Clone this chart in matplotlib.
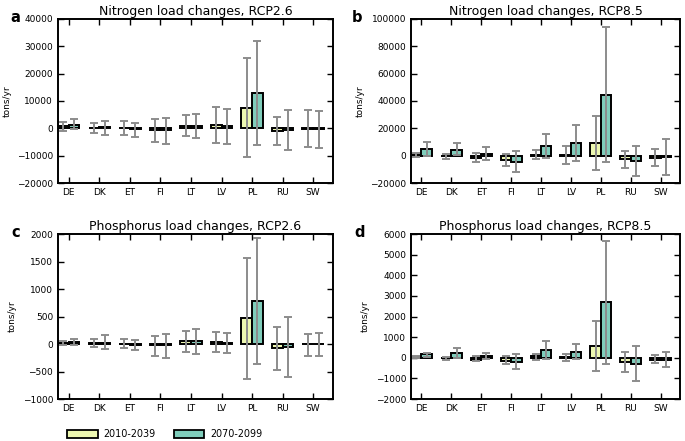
import numpy as np
import matplotlib
matplotlib.use("Agg")
import matplotlib.pyplot as plt
from matplotlib.patches import Patch

countries = ["DE", "DK", "ET", "FI", "LT", "LV", "PL", "RU", "SW"]
periods = ["2010-2039", "2070-2099"]

# nitrogen, RCP2.6 (tons/yr): mean change, ensemble min, ensemble max
n26_early = [700, 300, 100, -500, 1000, 1300, 7600, -900, -200]
n26_early_lo = [-1000, -1700, -2600, -5000, -2900, -5200, -10500, -6200, -7000]
n26_early_hi = [2200, 1800, 2800, 3400, 4900, 7700, 25900, 4200, 6600]
n26_late = [1400, 400, -300, -500, 1000, 800, 13000, -500, -300]
n26_late_lo = [-250, -2300, -3200, -5900, -3600, -5600, -6200, -7800, -7200]
n26_late_hi = [3300, 2800, 2000, 3900, 5400, 7000, 32000, 6600, 6300]

# nitrogen, RCP8.5
n85_early = [1000, -300, -1600, -2900, 700, 300, 9300, -2700, -1500]
n85_early_lo = [-1000, -2400, -4900, -7800, -2400, -6400, -10800, -8800, -7600]
n85_early_hi = [2000, 1000, 2000, 1200, 3900, 7100, 29300, 3700, 4600]
n85_late = [4900, 4100, 1200, -4400, 7300, 9300, 44700, -4200, -1200]
n85_late_lo = [-500, 200, -3400, -12200, -1700, -3900, -4900, -14900, -14200]
n85_late_hi = [10000, 9000, 6400, 3400, 16100, 22500, 94400, 7300, 12000]

# phosphorus, RCP2.6
p26_early = [20, 10, 5, -25, 50, 35, 465, -75, -5]
p26_early_lo = [-25, -60, -75, -220, -145, -145, -640, -470, -210]
p26_early_hi = [60, 100, 100, 150, 240, 225, 1565, 315, 190]
p26_late = [35, 25, -15, -25, 55, 20, 780, -55, -5]
p26_late_lo = [-10, -90, -100, -255, -175, -160, -365, -595, -225]
p26_late_hi = [85, 160, 75, 180, 270, 205, 1920, 490, 195]

# phosphorus, RCP8.5
p85_early = [30, -30, -100, -140, 90, 60, 590, -220, -90]
p85_early_lo = [-20, -100, -170, -320, -100, -170, -620, -690, -230]
p85_early_hi = [100, 50, 90, 70, 190, 190, 1790, 300, 140]
p85_late = [170, 220, 100, -200, 380, 300, 2700, -300, -100]
p85_late_lo = [50, 10, -60, -540, -70, -60, -280, -1130, -460]
p85_late_hi = [250, 480, 230, 170, 830, 660, 5660, 590, 300]

panels = [
    ("a", "Nitrogen load changes, RCP2.6", (-20000, 40000), 10000,
     (n26_early, n26_early_lo, n26_early_hi), (n26_late, n26_late_lo, n26_late_hi)),
    ("b", "Nitrogen load changes, RCP8.5", (-20000, 100000), 20000,
     (n85_early, n85_early_lo, n85_early_hi), (n85_late, n85_late_lo, n85_late_hi)),
    ("c", "Phosphorus load changes, RCP2.6", (-1000, 2000), 500,
     (p26_early, p26_early_lo, p26_early_hi), (p26_late, p26_late_lo, p26_late_hi)),
    ("d", "Phosphorus load changes, RCP8.5", (-2000, 6000), 1000,
     (p85_early, p85_early_lo, p85_early_hi), (p85_late, p85_late_lo, p85_late_hi)),
]

colors = ["#edf8b1", "#7fcdbb"]
w = 0.35

fig = plt.figure(figsize=(6.85, 4.41), dpi=100)
boxes = [
    [0.0847, 0.585, 0.4015, 0.372],
    [0.600, 0.585, 0.3927, 0.372],
    [0.0847, 0.0952, 0.4015, 0.374],
    [0.600, 0.0952, 0.3927, 0.374],
]
letter_x = [-0.155, -0.2, -0.155, -0.19]

x = np.arange(len(countries))
for box, lx, (letter, title, ylim, step, early, late) in zip(boxes, letter_x, panels):
    ax = fig.add_axes(box)
    for k, (vals, lo, hi) in enumerate([early, late]):
        vals = np.array(vals)
        err = [vals - np.array(lo), np.array(hi) - vals]
        ax.bar(x + k * w + w / 2, vals, w, color=colors[k], edgecolor="black",
               linewidth=1.4, yerr=err,
               error_kw=dict(ecolor="#8c8c8c", elinewidth=1.4, capsize=3, capthick=1.4))
    ax.set_xlim(0, 9)
    ax.set_ylim(*ylim)
    ax.set_yticks(np.arange(ylim[0], ylim[1] + step, step))
    ax.set_xticks(x + w)
    ax.set_xticklabels(countries)
    ax.tick_params(direction="in", top=True, right=True, labelsize=6.5, length=4, width=1)
    for s in ax.spines.values():
        s.set_linewidth(1.4)
    ax.set_ylabel("tons/yr", fontsize=6.5)
    ax.set_title(title, fontsize=9, pad=3)
    ax.text(lx, 1.01, letter, transform=ax.transAxes, fontsize=10.5,
            fontweight="bold", ha="center", va="center")

handles = [Patch(facecolor=c, edgecolor="black", linewidth=1.3) for c in colors]
fig.legend(handles, periods, loc="lower left", bbox_to_anchor=(0.085, -0.016),
           ncol=2, frameon=False, fontsize=6.9, handlelength=3.2,
           handleheight=0.8, columnspacing=1.9, handletextpad=0.6)

fig.savefig("out.png", dpi=100)
